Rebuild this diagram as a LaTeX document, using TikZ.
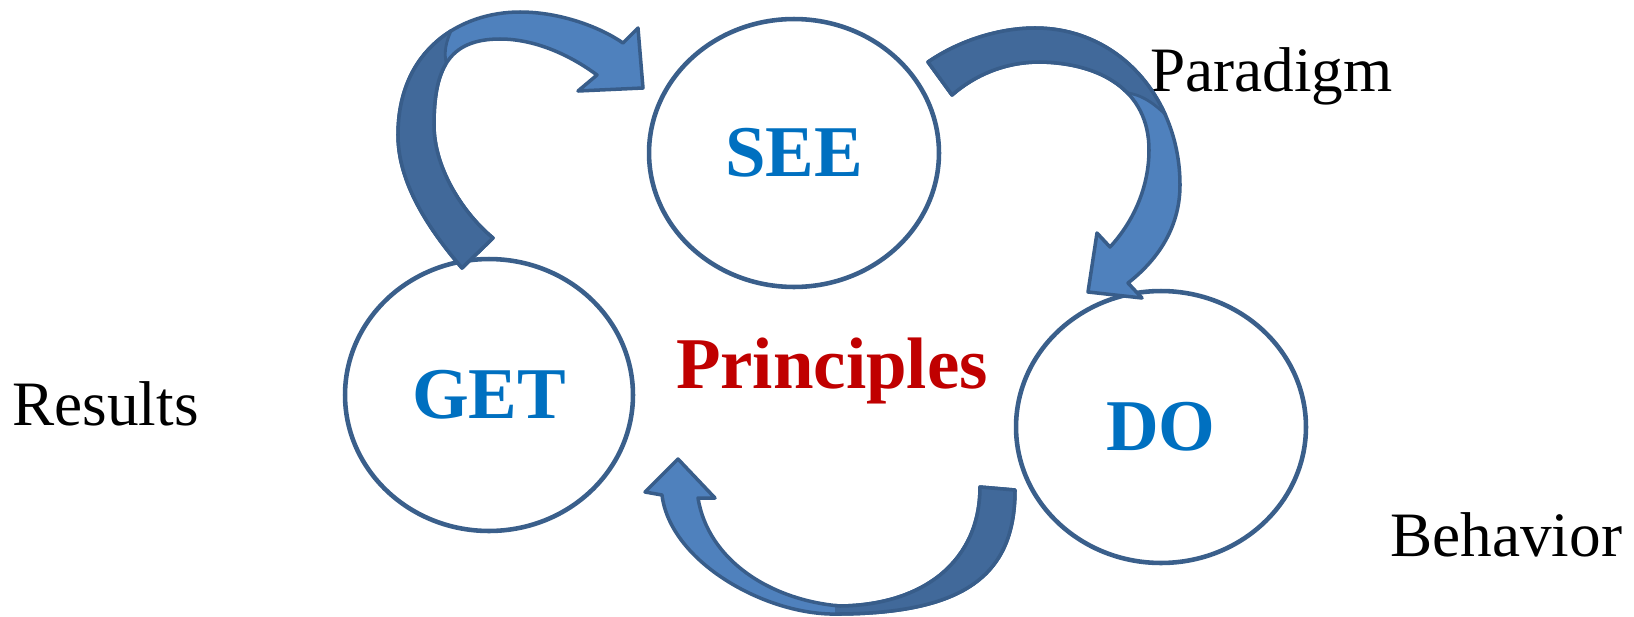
\documentclass[tikz,border=0pt]{standalone}
\usepackage{fontspec}
\setmainfont{Liberation Serif}
\usetikzlibrary{shapes.geometric}
\definecolor{ringline}{HTML}{3A5F8B}
\definecolor{arrline}{HTML}{385D8A}
\definecolor{arrlight}{HTML}{4F81BD}
\definecolor{arrdark}{HTML}{41699A}
\definecolor{wordblue}{HTML}{0070C0}
\definecolor{wordred}{HTML}{C00000}
\def\arrA{(462,268) .. controls (425,225) and (398,180) .. (398,135)
  .. controls (398,50) and (460,12) .. (520,12)
  .. controls (560,12) and (600,27) .. (623,43)
  -- (638,28) -- (643,88) -- (578,91) -- (597,75)
  .. controls (570,55) and (535,39) .. (500,39)
  .. controls (448,39) and (434,70) .. (434,125)
  .. controls (434,170) and (465,215) .. (493,238) -- cycle}
\def\arrB{(928,62) .. controls (960,40) and (1000,28) .. (1035,28)
  .. controls (1120,28) and (1180,100) .. (1180,185)
  .. controls (1180,230) and (1155,262) .. (1128,283)
  -- (1142,298) -- (1088,292) -- (1097,233) -- (1110,247)
  .. controls (1135,220) and (1149,185) .. (1149,150)
  .. controls (1149,90) and (1100,63) .. (1040,62)
  .. controls (1005,62) and (975,75) .. (952,95) -- cycle}
\def\arrC{(1015,490) .. controls (1015,575) and (965,615) .. (830,614)
  .. controls (760,612) and (670,560) .. (662,495)
  -- (645,492) -- (678,459) -- (715,498) -- (698,498)
  .. controls (708,560) and (770,600) .. (840,606)
  .. controls (925,605) and (980,560) .. (980,487) -- cycle}
\begin{document}
\begin{tikzpicture}[x=0.02cm,y=-0.02cm,
  ring/.style={ellipse, draw=ringline, line width=2.6pt, fill=white, inner sep=0pt,
    text=wordblue, font=\fontsize{41.5}{48}\selectfont\bfseries},
  bigword/.style={text=wordred, font=\fontsize{41.5}{48}\selectfont\bfseries, inner sep=0pt},
  sideword/.style={text=black, font=\fontsize{36}{42}\selectfont, inner sep=0pt, anchor=base west},
  lightpart/.style={fill=arrlight, draw=arrline, line width=2pt, line join=round},
  darkpart/.style={fill=arrdark, draw=arrline, line width=2pt, line join=round},
  cutline/.style={draw=arrline, line width=1.6pt, line cap=round}]
\useasboundingbox (0,0) rectangle (1634,616);

% circles
\node[ring, minimum width=5.8cm, minimum height=5.36cm] (see) at (794,153) {SEE};
\node[ring, minimum width=5.76cm, minimum height=5.44cm] (get) at (489,395) {GET};
\node[ring, minimum width=5.8cm, minimum height=5.44cm] (do) at (1161,427) {DO};

% centre word
\node[bigword, anchor=base] (pr) at (832,388) {Principles};

% side labels
\node[sideword] (par) at (1150,91) {Paradigm};
\node[sideword] (res) at (12,425) {Results};
\node[sideword] (beh) at (1390,556) {Behavior};

% arrow GET -> SEE
\path[lightpart] \arrA;
\begin{scope}
  \clip (300,620) -- (300,-10) -- (455,-10) -- (451,31) .. controls (446,42) and (444,52) .. (446,62) -- (470,120) -- (600,300) -- (600,620) -- cycle;
  \path[darkpart] \arrA;
\end{scope}
\path[cutline] (451,31) .. controls (446,42) and (444,52) .. (446,62);

% arrow SEE -> DO
\path[lightpart] \arrB;
\begin{scope}
  \clip (850,200) -- (850,-10) -- (1250,-10) -- (1250,162) -- (1165,114) .. controls (1150,100) and (1140,95) .. (1128,93) -- (1060,200) -- cycle;
  \path[darkpart] \arrB;
\end{scope}
\path[cutline] (1165,114) .. controls (1150,100) and (1140,95) .. (1128,93);

% arrow DO -> GET
\path[lightpart] \arrC;
\begin{scope}
  \clip (835,400) rectangle (1100,650);
  \path[darkpart] \arrC;
\end{scope}
\end{tikzpicture}
\end{document}
